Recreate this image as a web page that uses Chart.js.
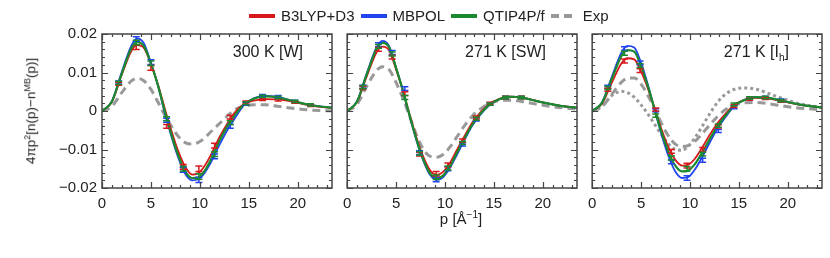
<!DOCTYPE html>
<html>
<head>
<meta charset="utf-8">
<script src="https://cdn.jsdelivr.net/npm/chart.js@4.4.1/dist/chart.umd.min.js"></script>
<style>
  body { margin: 0; background: #fff; }
  #wrap { position: relative; width: 830px; height: 258px; font-family: "Liberation Sans", Arial, sans-serif; color: #222; }
  canvas { position: absolute; top: 0; }
  .txt { position: absolute; white-space: nowrap; font-size: 15px; line-height: 1; }
  #legend { position: absolute; top: 7px; left: 249px; display: flex; font-size: 15px; }
  .item { display: flex; align-items: center; margin-right: 6px; }
  .sw { width: 26px; height: 4px; margin-right: 6px; }
  sup, sub { font-size: 10px; line-height: 0; }
  #ytitle { font-size: 13.5px; }
  #ytitle sup { font-size: 9px; }
</style>
</head>
<body>
<div id="wrap">
  <canvas id="c1" width="340" height="215" style="left:0px"></canvas>
  <canvas id="c2" width="249" height="215" style="left:336px"></canvas>
  <canvas id="c3" width="249" height="215" style="left:581px"></canvas>

  <div id="legend">
    <div class="item"><div class="sw" style="background:#d7191c"></div>B3LYP+D3</div>
    <div class="item"><div class="sw" style="background:#2244ee"></div>MBPOL</div>
    <div class="item"><div class="sw" style="background:#1b8a2e"></div>QTIP4P/f</div>
    <div class="item"><div class="sw" style="background:linear-gradient(90deg,#999 0 8px,transparent 8px 13px,#999 13px 21px,transparent 21px)"></div>Exp</div>
  </div>

  <div class="txt" style="left:303px;top:44px;transform:translateX(-100%);font-size:16px">300 K [W]</div>
  <div class="txt" style="left:546px;top:44px;transform:translateX(-100%);font-size:16px">271 K [SW]</div>
  <div class="txt" style="left:789px;top:44px;transform:translateX(-100%);font-size:16px">271 K [I<sub>h</sub>]</div>

  <div class="txt" style="left:461px;top:211px;transform:translateX(-50%)">p [Å<sup>−1</sup>]</div>
  <div id="ytitle" class="txt" style="left:31px;top:111px;transform:translate(-50%,-50%) rotate(-90deg)">4πp<sup>2</sup>[n(p)−n<sup>MB</sup>(p)]</div>
</div>

<script>
// momentum grid (1/Å) shared by all curves
const P = [0, 1, 2, 3, 3.6, 4.3, 5, 5.7, 6.4, 7.1, 7.8, 8.5, 9.2, 9.8, 10.5, 11.2, 12, 12.8, 13.6, 14.5, 15.5, 16.7, 18, 19.5, 21, 22.5, 23.5];

const X_TICKS = [0, 5, 10, 15, 20];
const Y_TICKS = [-0.02, -0.01, 0, 0.01, 0.02];

// ---- 300 K [W] ----
const W_B3LYP = [0, 0.0023, 0.0093, 0.0156, 0.0171, 0.0163, 0.0122, 0.0070, 0.0008, -0.0052, -0.0105, -0.0145, -0.0165, -0.0162, -0.0142, -0.0110, -0.0068, -0.0033, -0.0003, 0.0018, 0.0027, 0.0031, 0.0030, 0.0024, 0.0016, 0.0010, 0.0008];
const W_MBPOL = [0, 0.0025, 0.0100, 0.0170, 0.0188, 0.0175, 0.0125, 0.0068, -0.0004, -0.0067, -0.0122, -0.0163, -0.0180, -0.0178, -0.0160, -0.0130, -0.0088, -0.0050, -0.0018, 0.0015, 0.0033, 0.0040, 0.0036, 0.0026, 0.0017, 0.0011, 0.0009];
const W_QTIP = [0, 0.0024, 0.0096, 0.0163, 0.0179, 0.0168, 0.0123, 0.0068, 0.0001, -0.0062, -0.0116, -0.0157, -0.0174, -0.0173, -0.0155, -0.0122, -0.0077, -0.0040, -0.0010, 0.0017, 0.0032, 0.0038, 0.0035, 0.0026, 0.0017, 0.0011, 0.0009];
const W_EXP = [0, 0.0012, 0.0047, 0.0078, 0.0085, 0.0078, 0.0056, 0.0024, -0.0010, -0.0040, -0.0066, -0.0082, -0.0086, -0.0082, -0.0070, -0.0052, -0.0033, -0.0013, 0.0004, 0.0012, 0.0016, 0.0016, 0.0012, 0.0007, 0.0003, 0.0001, 0.0000];

const MK_X_W = [1.7, 3.5, 5.0, 6.6, 8.3, 9.9, 11.5, 13.1, 14.7, 16.4, 18.0, 19.7, 21.3];
const MK_W_B3LYP = [0.0071, 0.0166, 0.0112, -0.0040, -0.0145, -0.0150, -0.0090, -0.0016, 0.0022, 0.0030, 0.0029, 0.0023, 0.0015];
const MK_W_MBPOL = [0.0074, 0.0187, 0.0127, -0.0024, -0.0153, -0.0179, -0.0118, -0.0040, 0.0019, 0.0040, 0.0037, 0.0025, 0.0016];
const MK_W_QTIP = [0.0073, 0.0178, 0.0124, -0.0020, -0.0150, -0.0170, -0.0112, -0.0030, 0.0020, 0.0038, 0.0035, 0.0025, 0.0016];
const ERR_W = [0.0004, 0.0006, 0.0006, 0.0005, 0.0006, 0.0007, 0.0006, 0.0005, 0.0004, 0.0003, 0.0003, 0.0003, 0.0003];

// ---- 271 K [SW] ----
const SW_B3LYP = [0, 0.0023, 0.0090, 0.0152, 0.0167, 0.0157, 0.0108, 0.0053, -0.0010, -0.0070, -0.0120, -0.0155, -0.0166, -0.0158, -0.0135, -0.0102, -0.0065, -0.0030, -0.0004, 0.0016, 0.0031, 0.0037, 0.0034, 0.0025, 0.0017, 0.0011, 0.0009];
const SW_MBPOL = [0, 0.0025, 0.0098, 0.0165, 0.0182, 0.0168, 0.0112, 0.0052, -0.0015, -0.0078, -0.0130, -0.0167, -0.0179, -0.0172, -0.0148, -0.0115, -0.0075, -0.0038, -0.0010, 0.0014, 0.0030, 0.0037, 0.0034, 0.0025, 0.0017, 0.0011, 0.0009];
const SW_QTIP = [0, 0.0024, 0.0095, 0.0161, 0.0177, 0.0165, 0.0112, 0.0053, -0.0013, -0.0075, -0.0127, -0.0163, -0.0175, -0.0168, -0.0144, -0.0110, -0.0071, -0.0035, -0.0008, 0.0015, 0.0030, 0.0037, 0.0034, 0.0025, 0.0017, 0.0011, 0.0009];
const SW_EXP = [0, 0.0017, 0.0064, 0.0105, 0.0115, 0.0107, 0.0074, 0.0033, -0.0015, -0.0063, -0.0100, -0.0118, -0.0120, -0.0113, -0.0094, -0.0068, -0.0038, -0.0013, 0.0005, 0.0019, 0.0027, 0.0028, 0.0024, 0.0017, 0.0011, 0.0007, 0.0005];

const MK_X_SW = [1.6, 3.2, 4.6, 5.9, 7.4, 9.1, 10.3, 11.8, 13.2, 14.6, 16.2, 17.8];
const MK_SW_B3LYP = [0.0060, 0.0160, 0.0140, 0.0045, -0.0112, -0.0163, -0.0140, -0.0077, -0.0017, 0.0020, 0.0035, 0.0035];
const MK_SW_MBPOL = [0.0063, 0.0172, 0.0152, 0.0058, -0.0108, -0.0178, -0.0150, -0.0087, -0.0022, 0.0018, 0.0035, 0.0035];
const MK_SW_QTIP = [0.0062, 0.0168, 0.0148, 0.0035, -0.0110, -0.0172, -0.0148, -0.0083, -0.0020, 0.0018, 0.0035, 0.0035];
const ERR_SW = [0.0004, 0.0005, 0.0005, 0.0005, 0.0005, 0.0006, 0.0005, 0.0004, 0.0004, 0.0003, 0.0003, 0.0003];

// ---- 271 K [Ih] ----
const IH_B3LYP = [0, 0.0019, 0.0073, 0.0124, 0.0137, 0.0134, 0.0102, 0.0058, 0.0005, -0.0048, -0.0094, -0.0127, -0.0142, -0.0140, -0.0124, -0.0097, -0.0063, -0.0032, -0.0008, 0.0015, 0.0028, 0.0034, 0.0032, 0.0025, 0.0017, 0.0012, 0.0009];
const IH_MBPOL = [0, 0.0022, 0.0088, 0.0152, 0.0169, 0.0165, 0.0125, 0.0068, 0.0002, -0.0062, -0.0117, -0.0157, -0.0174, -0.0172, -0.0152, -0.0122, -0.0083, -0.0046, -0.0017, 0.0012, 0.0028, 0.0036, 0.0034, 0.0026, 0.0018, 0.0012, 0.0009];
const IH_QTIP = [0, 0.0021, 0.0083, 0.0143, 0.0158, 0.0154, 0.0116, 0.0064, 0.0003, -0.0056, -0.0106, -0.0142, -0.0157, -0.0155, -0.0138, -0.0110, -0.0074, -0.0040, -0.0013, 0.0013, 0.0028, 0.0036, 0.0034, 0.0026, 0.0018, 0.0012, 0.0009];
const IH_EXP = [0, 0.0011, 0.0043, 0.0075, 0.0085, 0.0086, 0.0070, 0.0040, 0.0005, -0.0033, -0.0065, -0.0086, -0.0092, -0.0090, -0.0079, -0.0060, -0.0037, -0.0015, 0.0003, 0.0015, 0.0021, 0.0022, 0.0019, 0.0013, 0.0008, 0.0005, 0.0003];
const IH_EXP2 = [0, 0.0013, 0.0040, 0.0051, 0.0048, 0.0036, 0.0016, -0.0008, -0.0035, -0.0062, -0.0085, -0.0100, -0.0102, -0.0092, -0.0070, -0.0042, -0.0008, 0.0022, 0.0043, 0.0056, 0.0060, 0.0057, 0.0046, 0.0032, 0.0020, 0.0013, 0.0009];

const MK_X_IH = [1.6, 3.3, 4.9, 6.5, 8.1, 9.7, 11.3, 12.9, 14.5, 16.1, 17.7, 19.3];
const MK_IH_B3LYP = [0.0055, 0.0130, 0.0105, 0.0004, -0.0105, -0.0142, -0.0100, -0.0040, 0.0013, 0.0031, 0.0033, 0.0026];
const MK_IH_MBPOL = [0.0063, 0.0162, 0.0125, 0.0002, -0.0132, -0.0174, -0.0128, -0.0052, 0.0010, 0.0034, 0.0035, 0.0028];
const MK_IH_QTIP = [0.0060, 0.0150, 0.0118, -0.0012, -0.0122, -0.0150, -0.0112, -0.0038, 0.0017, 0.0034, 0.0035, 0.0027];
const ERR_IH = [0.0004, 0.0005, 0.0005, 0.0004, 0.0005, 0.0006, 0.0005, 0.0004, 0.0004, 0.0003, 0.0003, 0.0003];

const RED = "#d7191c", BLUE = "#2244ee", GREEN = "#1b8a2e", GRAY = "#999999";

Chart.defaults.font.family = '"Liberation Sans", Arial, sans-serif';
Chart.defaults.font.size = 15;
Chart.defaults.color = "#222";

const pts = (xs, ys) => xs.map((x, i) => ({ x: x, y: ys[i] }));

// error bars drawn from each marker dataset's errs array
const errorBars = {
  id: "errorBars",
  afterDatasetsDraw(chart) {
    const { ctx, chartArea: a } = chart;
    const x = chart.scales.x, y = chart.scales.y;
    ctx.save();
    ctx.beginPath();
    ctx.rect(a.left, a.top, a.right - a.left, a.bottom - a.top);
    ctx.clip();
    chart.data.datasets.forEach((ds) => {
      if (!ds.errs) return;
      ctx.strokeStyle = ds.borderColor;
      ctx.lineWidth = 1.5;
      ctx.beginPath();
      ds.data.forEach((p, i) => {
        const px = x.getPixelForValue(p.x);
        const lo = y.getPixelForValue(p.y - ds.errs[i]);
        const hi = y.getPixelForValue(p.y + ds.errs[i]);
        ctx.moveTo(px, lo); ctx.lineTo(px, hi);
        ctx.moveTo(px - 3.5, lo); ctx.lineTo(px + 3.5, lo);
        ctx.moveTo(px - 3.5, hi); ctx.lineTo(px + 3.5, hi);
      });
      ctx.stroke();
    });
    ctx.restore();
  },
};

// box frame with inward major/minor ticks on all four sides
const frameTicks = {
  id: "frameTicks",
  afterDraw(chart) {
    const { ctx, chartArea: a } = chart;
    const x = chart.scales.x, y = chart.scales.y;
    ctx.save();
    ctx.strokeStyle = "#444";
    ctx.lineWidth = 1.2;
    ctx.beginPath();
    for (let v = 0; v <= 23; v++) {
      const px = Math.round(x.getPixelForValue(v)) + 0.5;
      const len = v % 5 === 0 ? 6 : 3;
      ctx.moveTo(px, a.bottom); ctx.lineTo(px, a.bottom - len);
      ctx.moveTo(px, a.top); ctx.lineTo(px, a.top + len);
    }
    for (let i = -10; i <= 10; i++) {
      const py = Math.round(y.getPixelForValue(i * 0.002)) + 0.5;
      const len = i % 5 === 0 ? 6 : 3;
      ctx.moveTo(a.left, py); ctx.lineTo(a.left + len, py);
      ctx.moveTo(a.right, py); ctx.lineTo(a.right - len, py);
    }
    ctx.stroke();
    ctx.lineWidth = 1.5;
    ctx.strokeRect(a.left, a.top, a.right - a.left, a.bottom - a.top);
    ctx.restore();
  },
};

function curve(label, ys, color, order, dash, width) {
  return {
    label: label,
    data: pts(P, ys),
    showLine: true,
    borderColor: color,
    borderWidth: width,
    borderDash: dash || [],
    pointRadius: 0,
    cubicInterpolationMode: "monotone",
    order: order,
  };
}

function markers(label, xs, ys, errs, color) {
  return {
    label: label,
    data: pts(xs, ys),
    showLine: false,
    borderColor: color,
    backgroundColor: color,
    pointRadius: 0,
    errs: errs,
    order: 0,
  };
}

function makePanel(id, datasets, showY, yWidth) {
  return new Chart(document.getElementById(id), {
    type: "scatter",
    data: { datasets: datasets },
    options: {
      responsive: false,
      animation: false,
      layout: { padding: { top: 34, right: 8, bottom: 0, left: 0 } },
      plugins: { legend: { display: false }, tooltip: { enabled: false } },
      scales: {
        x: {
          type: "linear",
          min: 0,
          max: 23.5,
          afterBuildTicks: (s) => { s.ticks = X_TICKS.map((v) => ({ value: v })); },
          afterFit: (s) => { s.height = 27; },
          grid: { display: false, drawTicks: false },
          border: { display: false },
          ticks: { padding: 7, maxRotation: 0, autoSkip: false },
        },
        y: {
          min: -0.02,
          max: 0.02,
          afterBuildTicks: (s) => { s.ticks = Y_TICKS.map((v) => ({ value: v })); },
          afterFit: (s) => { s.width = yWidth; },
          grid: { display: false, drawTicks: false },
          border: { display: false },
          ticks: {
            display: showY,
            padding: 5,
            callback: (v) => (v === 0 ? "0" : (v < 0 ? "\u2212" : "") + Math.abs(v).toFixed(2)),
          },
        },
      },
    },
    plugins: [errorBars, frameTicks],
  });
}

makePanel("c1", [
  curve("Exp", W_EXP, GRAY, 4, [8, 5], 3),
  curve("MBPOL", W_MBPOL, BLUE, 3, null, 1.8),
  curve("B3LYP+D3", W_B3LYP, RED, 2, null, 1.8),
  curve("QTIP4P/f", W_QTIP, GREEN, 1, null, 2.2),
  markers("MBPOL data", MK_X_W, MK_W_MBPOL, ERR_W, BLUE),
  markers("B3LYP+D3 data", MK_X_W, MK_W_B3LYP, ERR_W, RED),
  markers("QTIP4P/f data", MK_X_W, MK_W_QTIP, ERR_W, GREEN),
], true, 102);

makePanel("c2", [
  curve("Exp", SW_EXP, GRAY, 4, [8, 5], 3),
  curve("MBPOL", SW_MBPOL, BLUE, 3, null, 1.8),
  curve("B3LYP+D3", SW_B3LYP, RED, 2, null, 1.8),
  curve("QTIP4P/f", SW_QTIP, GREEN, 1, null, 2.2),
  markers("MBPOL data", MK_X_SW, MK_SW_MBPOL, ERR_SW, BLUE),
  markers("B3LYP+D3 data", MK_X_SW, MK_SW_B3LYP, ERR_SW, RED),
  markers("QTIP4P/f data", MK_X_SW, MK_SW_QTIP, ERR_SW, GREEN),
], false, 10);

makePanel("c3", [
  curve("Exp", IH_EXP, GRAY, 5, [8, 5], 3),
  curve("Exp (2)", IH_EXP2, GRAY, 4, [3, 3], 3),
  curve("MBPOL", IH_MBPOL, BLUE, 3, null, 1.8),
  curve("B3LYP+D3", IH_B3LYP, RED, 2, null, 1.8),
  curve("QTIP4P/f", IH_QTIP, GREEN, 1, null, 2.2),
  markers("MBPOL data", MK_X_IH, MK_IH_MBPOL, ERR_IH, BLUE),
  markers("B3LYP+D3 data", MK_X_IH, MK_IH_B3LYP, ERR_IH, RED),
  markers("QTIP4P/f data", MK_X_IH, MK_IH_QTIP, ERR_IH, GREEN),
], false, 10);
</script>
</body>
</html>
